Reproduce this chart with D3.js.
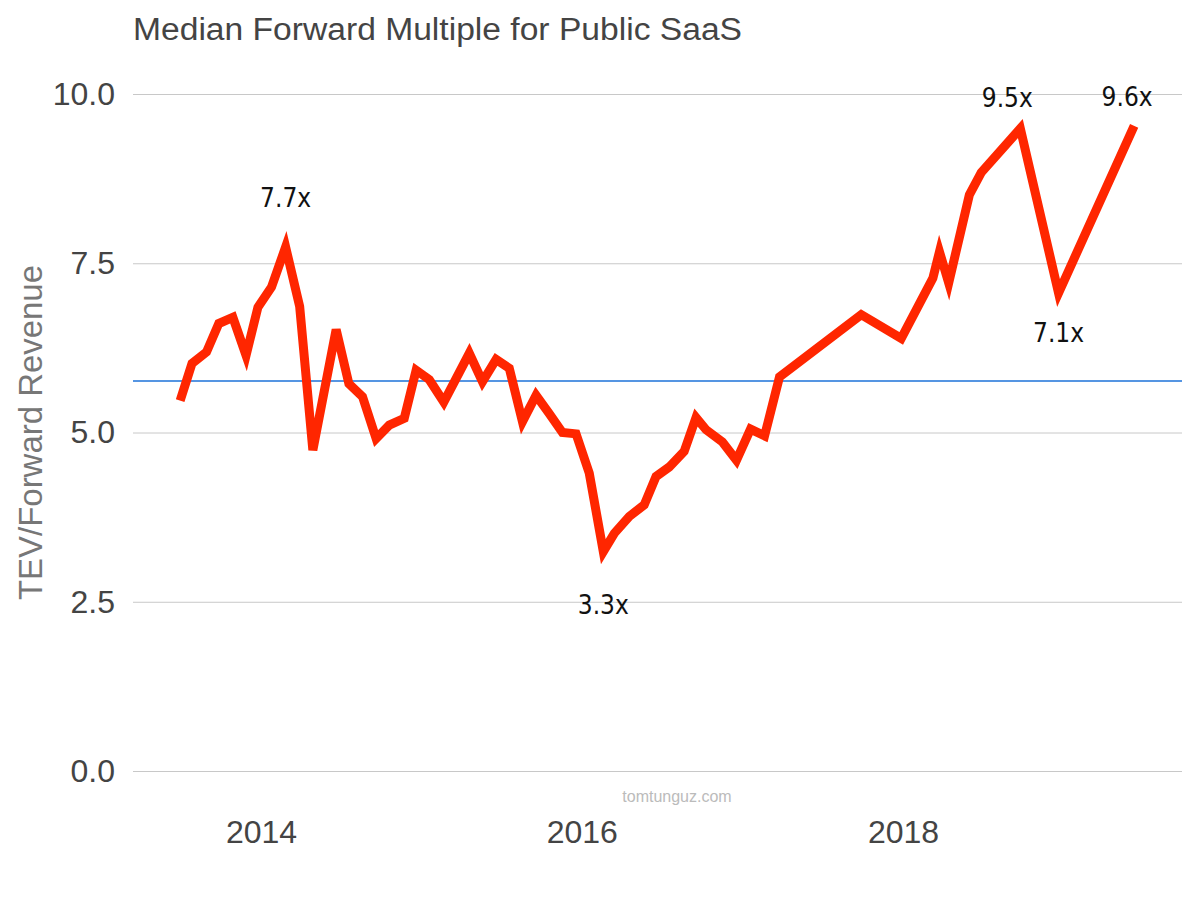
<!DOCTYPE html>
<html>
<head>
<meta charset="utf-8">
<script src="https://cdn.jsdelivr.net/npm/d3@7/dist/d3.min.js"></script>
<style>
  html, body { margin: 0; padding: 0; background: #fff; }
  svg { display: block; }
</style>
</head>
<body>
<svg id="chart" width="1200" height="900"></svg>
<script>
// ---- data ----
const dates = [
  "2013-07-01","2013-07-28","2013-08-30","2013-09-27","2013-10-29","2013-11-28","2013-12-25",
  "2014-01-25","2014-02-26","2014-03-30","2014-04-29","2014-06-21","2014-07-20","2014-08-20",
  "2014-09-20","2014-10-20","2014-11-23","2014-12-20","2015-01-19","2015-02-21","2015-04-20",
  "2015-05-20","2015-06-20","2015-07-20","2015-08-19","2015-09-19","2015-10-19","2015-11-18",
  "2015-12-19","2016-01-18","2016-02-19","2016-03-15","2016-04-18","2016-05-22","2016-06-18",
  "2016-07-18","2016-08-21","2016-09-17","2016-10-10","2016-11-16","2016-12-18","2017-01-19",
  "2017-02-20","2017-03-26","2017-09-28","2017-12-28","2018-03-10","2018-03-25","2018-04-15",
  "2018-06-01","2018-06-28","2018-09-25","2018-12-21","2019-06-11"
];
const multiples = [
  5.47, 6.02, 6.19, 6.61, 6.70, 6.14, 6.85,
  7.15, 7.74, 6.86, 4.74, 6.52, 5.72, 5.53,
  4.91, 5.11, 5.21, 5.92, 5.78, 5.45, 6.17,
  5.75, 6.08, 5.95, 5.16, 5.55, 5.28, 5.00,
  4.98, 4.40, 3.24, 3.51, 3.76, 3.93, 4.35,
  4.49, 4.72, 5.22, 5.04, 4.86, 4.59, 5.05,
  4.95, 5.82, 6.74, 6.39, 7.28, 7.67, 7.21,
  8.51, 8.84, 9.49, 7.06, 9.53
];
const averageMultiple = 5.76;
const yTicks = [0, 2.5, 5, 7.5, 10];
const xTickYears = [2014, 2016, 2018];
const annotationIndex = [8, 30, 51, 52, 53];
const annotationLabels = ["7.7x", "3.3x", "9.5x", "7.1x", "9.6x"];

// label placement (style, not data): pixel offsets from the annotated point
const labelOffsets = [[0, -40], [0, 62], [-13, -22], [0, 49], [-7, -20]];

// ---- chart ----
const parse = d3.timeParse("%Y-%m-%d");
const data = dates.map((d, i) => ({ date: parse(d), value: multiples[i] }));

const svg = d3.select("#chart");
const left = 133, right = 1182;
const FONT = "'Liberation Sans', Arial, Helvetica, sans-serif";

const x = d3.scaleTime()
  .domain([new Date(2014, 0, 1), new Date(2018, 0, 1)])
  .range([261, 903]);
const y = d3.scaleLinear().domain([0, 10]).range([771, 94]);

// title
svg.append("text")
  .attr("x", left).attr("y", 40)
  .attr("font-family", FONT)
  .attr("font-size", 31)
  .attr("textLength", 609)
  .attr("lengthAdjust", "spacingAndGlyphs")
  .attr("fill", "#444")
  .text("Median Forward Multiple for Public SaaS");

// y grid + labels
const yAxis = d3.axisLeft(y)
  .tickValues(yTicks)
  .tickFormat(d3.format(".1f"))
  .tickSize(-(right - left))
  .tickPadding(18);
const gy = svg.append("g")
  .attr("transform", `translate(${left},0)`)
  .call(yAxis);
gy.select(".domain").remove();
gy.selectAll(".tick line").attr("stroke", "#c8c8c8").attr("stroke-width", 1);
gy.selectAll(".tick text")
  .attr("font-family", FONT)
  .attr("font-size", 32)
  .attr("fill", "#444");

// x labels
const xAxis = d3.axisBottom(x)
  .tickValues(xTickYears.map(yr => new Date(yr, 0, 1)))
  .tickFormat(d3.timeFormat("%Y"))
  .tickSize(0)
  .tickPadding(0);
const gx = svg.append("g")
  .attr("transform", `translate(0,820)`)
  .call(xAxis);
gx.select(".domain").remove();
gx.selectAll(".tick text")
  .attr("font-family", FONT)
  .attr("font-size", 32)
  .attr("fill", "#444");

// y axis title
svg.append("text")
  .attr("transform", `translate(42,${(y(0) + y(10)) / 2}) rotate(-90)`)
  .attr("text-anchor", "middle")
  .attr("font-family", FONT)
  .attr("font-size", 33)
  .attr("textLength", 335)
  .attr("lengthAdjust", "spacingAndGlyphs")
  .attr("fill", "#777")
  .text("TEV/Forward Revenue");

// watermark
svg.append("text")
  .attr("x", 677).attr("y", 802)
  .attr("text-anchor", "middle")
  .attr("font-family", FONT)
  .attr("font-size", 16)
  .attr("fill", "#bbb")
  .text("tomtunguz.com");

// average line
svg.append("line")
  .attr("x1", left).attr("x2", right)
  .attr("y1", y(averageMultiple)).attr("y2", y(averageMultiple))
  .attr("stroke", "#1c72d8").attr("stroke-width", 1.5);

// series
svg.append("path")
  .datum(data)
  .attr("fill", "none")
  .attr("stroke", "#ff2600")
  .attr("stroke-width", 9)
  .attr("stroke-linejoin", "miter")
  .attr("stroke-miterlimit", 4)
  .attr("d", d3.line().x(d => x(d.date)).y(d => y(d.value)));

// annotations
svg.append("g").selectAll("text")
  .data(annotationIndex.map((idx, k) => ({ idx, label: annotationLabels[k], off: labelOffsets[k] })))
  .join("text")
  .attr("x", a => x(data[a.idx].date) + a.off[0])
  .attr("y", a => y(data[a.idx].value) + a.off[1])
  .attr("text-anchor", "middle")
  .attr("font-family", "'DejaVu Sans Condensed', 'DejaVu Sans', sans-serif")
  .attr("font-stretch", "condensed")
  .attr("font-size", 26)
  .attr("fill", "#111")
  .text(a => a.label);
</script>
</body>
</html>
